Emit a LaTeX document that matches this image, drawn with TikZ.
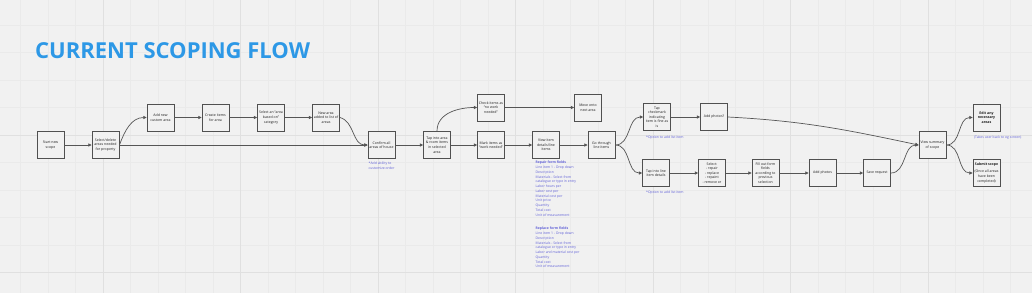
\documentclass[tikz,border=0pt]{standalone}
\usepackage{fontspec}
\setmainfont{Open Sans}
\usetikzlibrary{arrows.meta}
\definecolor{bg}{RGB}{241,241,241}
\definecolor{gridmin}{RGB}{234,234,234}
\definecolor{gridmaj}{RGB}{224,224,224}
\definecolor{boxc}{RGB}{80,80,80}
\definecolor{linec}{RGB}{85,85,85}
\definecolor{titleblue}{RGB}{45,152,230}
\definecolor{noteblue}{RGB}{95,95,215}
\tikzset{
  stepbox/.style={draw=boxc, fill=bg, line width=0.9pt, minimum width=27pt, minimum height=27pt,
    inner sep=0.6pt, align=center, font=\fontsize{3.5}{4.6}\selectfont, text=black!90},
  conn/.style={draw=linec, line width=0.7pt, -{Triangle[length=3.2pt,width=3.2pt]}},
  note/.style={text=noteblue, font=\fontsize{3.4}{4.75}\selectfont, inner sep=0, align=left},
}
\begin{document}
\begin{tikzpicture}[x=1pt,y=1pt]
\fill[bg] (0,0) rectangle (1032,-293);
\useasboundingbox (0,0) rectangle (1032,-293);
% grid
\foreach \k in {0,...,37} {\draw[gridmin, line width=0.4pt] ({20.5+27.5*\k},0) -- ++(0,-293);}
\foreach \k in {0,...,9} {\draw[gridmin, line width=0.4pt] (0,{-25-27.5*\k}) -- ++(1032,0);}
\foreach \x in {103,240.5,378,515.5,653,790.5,928} {\draw[gridmaj, line width=0.6pt] (\x,0) -- ++(0,-293);}
\foreach \y in {135,272.5} {\draw[gridmaj, line width=0.6pt] (0,-\y) -- ++(1032,0);}

% title
\node[anchor=base west, font=\fontsize{22}{26}\selectfont\bfseries, text=titleblue, inner sep=0] (title) at (35,-58) {CURRENT SCOPING FLOW};

% nodes
\node[stepbox] (n1) at (50.5,-145) {Start new\\scope};
\node[stepbox] (n2) at (105.5,-145) {Select/delete\\areas needed\\for property};
\node[stepbox] (n3) at (160.5,-117.5) {Add new\\custom area};
\node[stepbox] (n4) at (215.5,-117.5) {Create items\\for area};
\node[stepbox] (n5) at (271,-117.5) {Select an ``area\\based on''\\category};
\node[stepbox] (n6) at (326,-117.5) {New area\\added to list of\\areas};
\node[stepbox] (n7) at (381.5,-145) {Confirm all\\areas of house};
\node[stepbox] (n8) at (437,-145) {Tap into area\\\& room items\\in selected\\area};
\node[stepbox] (n9) at (491,-107.5) {Check items as\\``no work\\needed''};
\node[stepbox] (n10) at (491,-145) {Mark items as\\``work needed''};
\node[stepbox] (n11) at (588,-107.5) {Move onto\\next area};
\node[stepbox] (n12) at (546,-145) {View item\\details/line\\items};
\node[stepbox] (n13) at (601.5,-145) {Go through\\line items};
\node[stepbox] (n14) at (657,-117) {Tap\\checkmark\\indicating\\item is fine as\\is};
\node[stepbox] (n15) at (714,-117) {Add photos?};
\node[stepbox] (n16) at (656,-173) {Tap into line\\item details};
\node[stepbox] (n17) at (712,-173) {Select:\\- repair\\- replace\\- repaint\\- remove or};
\node[stepbox] (n18) at (765.5,-173) {Fill out form\\fields\\according to\\previous\\selection};
\node[stepbox] (n19) at (822.5,-173) {Add photos};
\node[stepbox] (n20) at (877,-173) {Save request};
\node[stepbox] (n21) at (932.5,-145) {View summary\\of scope};
\node[stepbox, font=\fontsize{3.5}{4.6}\selectfont\bfseries] (n22) at (986.5,-117.5) {Edit any\\necessary\\areas};
\node[stepbox] (n23) at (986.5,-173) {\textbf{Submit scope}\\[2.5pt](Once all areas\\have been\\completed)};

% notes
\node[note, anchor=north west] (note1) at (368.5,-162) {*Add ability to\\customize order};
\node[note, anchor=west] (note2) at (646,-137.5) {*Option to add list item};
\node[note, anchor=west] (note3) at (646,-192.5) {*Option to add list item};
\node[note, anchor=west] (note4) at (974,-137.5) {(Takes user back to og screen)};
\node[note, anchor=north west] (note5) at (535.5,-161) {\textbf{Repair form fields}\\Line item 1 - Drop down\\Description\\Materials - Select from\\catalogue or type in entry\\Labor hours per\\Labor cost per\\Material cost per\\Unit price\\Quantity\\Total cost\\Unit of measurement};
\node[note, anchor=north west] (note6) at (535.5,-227) {\textbf{Replace form fields}\\Line item 1 - Drop down\\Description\\Materials - Select from\\catalogue or type in entry\\Labor and material cost per\\Quantity\\Total cost\\Unit of measurement};

% connectors
\draw[conn] (n1) -- (n2);
\draw[conn] (n2.east) to[out=70,in=180] (n3.west);
\draw[conn] (n2.east) -- (n7.west);
\draw[conn] (n3) -- (n4);
\draw[conn] (n4) -- (n5);
\draw[conn] (n5) -- (n6);
\draw[conn] (n6.east) to[out=-15,in=180] (n7.west);
\draw[conn] (n7) -- (n8);
\draw[conn] (n8.north) to[out=90,in=180] (n9.west);
\draw[conn] (n8) -- (n10);
\draw[conn] (n9) -- (n11);
\draw[conn] (n10) -- (n12);
\draw[conn] (n12) -- (n13);
\draw[conn] (n13.east) to[out=0,in=180] (n14.west);
\draw[conn] (n13.east) to[out=0,in=180] (n16.west);
\draw[conn] (n14) -- (n15);
\draw[conn] (n15.east) to[out=-3,in=168] (n21.west);
\draw[conn] (n16) -- (n17);
\draw[conn] (n17) -- (n18);
\draw[conn] (n18) -- (n19);
\draw[conn] (n19) -- (n20);
\draw[conn] (n20.east) to[out=0,in=180] (n21.west);
\draw[conn] (n21.east) to[out=0,in=180] (n22.west);
\draw[conn] (n21.east) to[out=0,in=180] (n23.west);
\end{tikzpicture}
\end{document}
